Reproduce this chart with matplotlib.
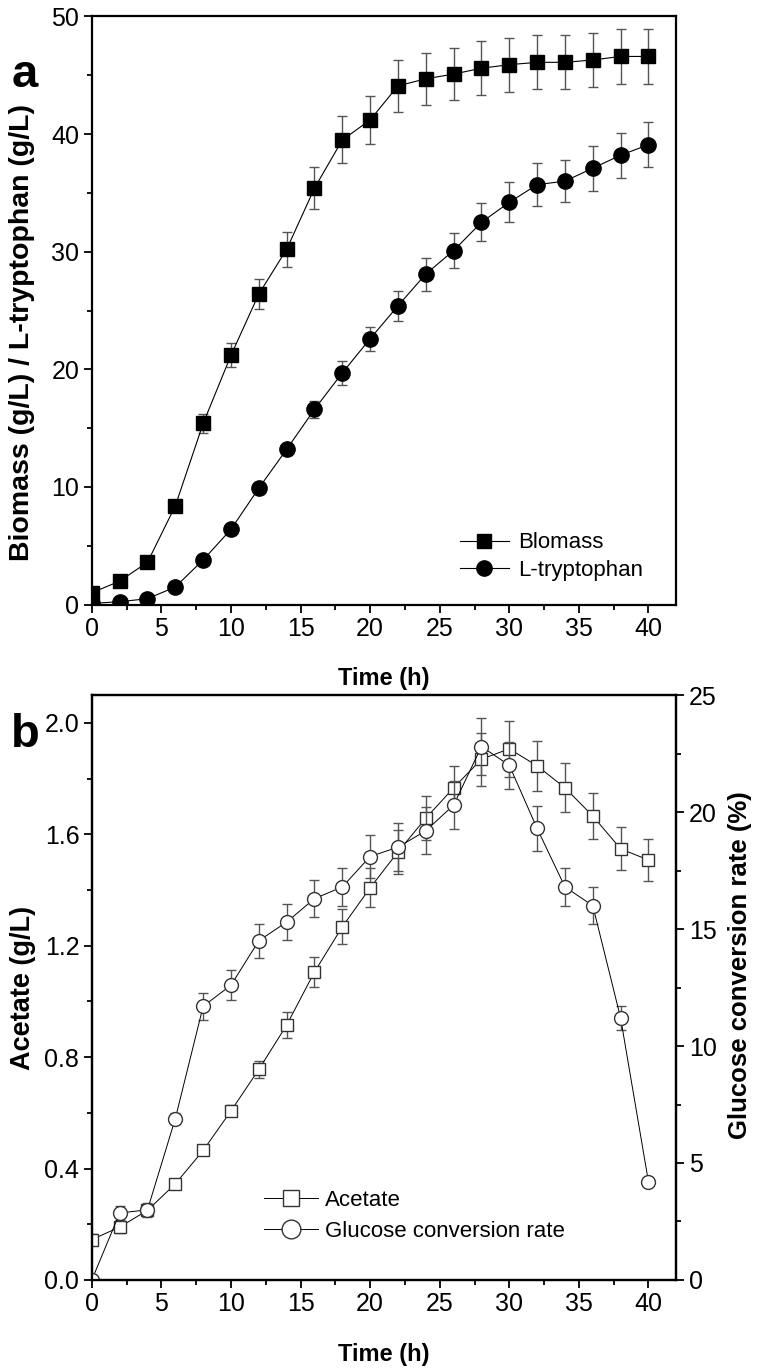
import numpy as np
import matplotlib.pyplot as plt
from matplotlib.ticker import MultipleLocator, FormatStrFormatter

plt.rcParams['font.family'] = ['Liberation Sans', 'DejaVu Sans']

# Time points (h)
time = [0, 2, 4, 6, 8, 10, 12, 14, 16, 18, 20, 22, 24, 26, 28, 30, 32, 34, 36, 38, 40]

# Panel a
biomass = [1.0, 2.0, 3.6, 8.4, 15.4, 21.2, 26.4, 30.2, 35.4, 39.5, 41.2,
           44.1, 44.7, 45.1, 45.6, 45.9, 46.1, 46.1, 46.3, 46.6, 46.6]
biomass_err = [0.1, 0.2, 0.2, 0.3, 0.8, 1.0, 1.3, 1.5, 1.8, 2.0, 2.05,
               2.2, 2.2, 2.2, 2.3, 2.3, 2.3, 2.3, 2.3, 2.3, 2.3]
trp = [0.1, 0.25, 0.5, 1.5, 3.8, 6.4, 9.9, 13.2, 16.6, 19.7, 22.6,
       25.4, 28.1, 30.1, 32.5, 34.2, 35.7, 36.0, 37.1, 38.2, 39.1]
trp_err = [0.05, 0.1, 0.1, 0.2, 0.3, 0.4, 0.5, 0.5, 0.7, 1.0, 1.0,
           1.25, 1.4, 1.5, 1.6, 1.7, 1.8, 1.8, 1.9, 1.9, 1.9]

# Panel b
acetate = [0.145, 0.19, 0.25, 0.345, 0.465, 0.607, 0.756, 0.915, 1.106, 1.268, 1.408,
           1.537, 1.658, 1.767, 1.87, 1.907, 1.846, 1.767, 1.666, 1.548, 1.508]
acetate_err = [0.02, 0.02, 0.02, 0.015, 0.01, 0.02, 0.03, 0.047, 0.055, 0.063, 0.07,
               0.078, 0.08, 0.08, 0.095, 0.1, 0.09, 0.088, 0.083, 0.077, 0.075]
glucose = [0.0, 2.86, 3.0, 6.9, 11.7, 12.6, 14.5, 15.3, 16.3, 16.8, 18.1,
           18.5, 19.2, 20.3, 22.8, 22.0, 19.3, 16.8, 16.0, 11.2, 4.2]
glucose_err = [0.0, 0.3, 0.3, 0.25, 0.57, 0.63, 0.73, 0.76, 0.8, 0.82, 0.93,
               1.04, 1.0, 1.03, 1.2, 1.0, 0.98, 0.83, 0.8, 0.53, 0.15]

fig = plt.figure(figsize=(7.59, 13.71), dpi=100)

err_kw = dict(ecolor='#555555', elinewidth=1.0, capsize=3.5, capthick=1.0)


def style_axis(ax):
    for s in ax.spines.values():
        s.set_linewidth(1.6)
    ax.tick_params(which='both', direction='out', width=1.3, labelsize=18, pad=3)
    ax.tick_params(which='major', length=6)
    ax.tick_params(which='minor', length=3.5)
    ax.xaxis.set_major_locator(MultipleLocator(5))
    ax.xaxis.set_minor_locator(MultipleLocator(2.5))


# ---- panel a
ax1 = fig.add_axes([0.121, 0.559, 0.770, 0.429])
ax1.errorbar(time, biomass, yerr=biomass_err, color='black', lw=0.8,
             marker='s', ms=9.5, label='Blomass', **err_kw)
ax1.errorbar(time, trp, yerr=trp_err, color='black', lw=0.8,
             marker='o', ms=11, label='L-tryptophan', **err_kw)
ax1.set_xlim(0, 42)
ax1.set_ylim(0, 50)
ax1.yaxis.set_major_locator(MultipleLocator(10))
ax1.yaxis.set_minor_locator(MultipleLocator(5))
style_axis(ax1)
ax1.set_xlabel('Time (h)', fontsize=17, fontweight='bold', labelpad=19)
ax1.set_ylabel('Biomass (g/L) / L-tryptophan (g/L)', fontsize=20.5, fontweight='bold')
ax1.yaxis.set_label_coords(-0.097, 0.463)
h, l = ax1.get_legend_handles_labels()
h = [x[0] for x in h]
ax1.legend(h, l, loc='lower left', bbox_to_anchor=(0.63, 0.04), frameon=False,
           fontsize=16, handlelength=2.2, handletextpad=0.4, labelspacing=0.3,
           borderpad=0, borderaxespad=0)
fig.text(0.015, 0.945, 'a', fontsize=34, fontweight='bold', va='center')

# ---- panel b
ax2 = fig.add_axes([0.121, 0.0664, 0.770, 0.4266])
ax3 = ax2.twinx()
l1 = ax2.errorbar(time, acetate, yerr=acetate_err, color='black', lw=0.7,
                  marker='s', ms=9, mfc='white', mec='#333333', mew=1.0,
                  label='Acetate', **err_kw)
l2 = ax3.errorbar(time, glucose, yerr=glucose_err, color='black', lw=0.7,
                  marker='o', ms=10, mfc='white', mec='#333333', mew=1.0,
                  label='Glucose conversion rate', **err_kw)
ax2.set_xlim(0, 42)
ax2.set_ylim(0, 2.1)
ax3.set_ylim(0, 25)
ax2.yaxis.set_major_locator(MultipleLocator(0.4))
ax2.yaxis.set_minor_locator(MultipleLocator(0.2))
ax2.yaxis.set_major_formatter(FormatStrFormatter('%.1f'))
ax3.yaxis.set_major_locator(MultipleLocator(5))
ax3.yaxis.set_minor_locator(MultipleLocator(2.5))
style_axis(ax2)
style_axis(ax3)
ax2.set_xlabel('Time (h)', fontsize=17, fontweight='bold', labelpad=19)
ax2.set_ylabel('Acetate (g/L)', fontsize=19.5, fontweight='bold', labelpad=6)
ax3.set_ylabel('Glucose conversion rate (%)', fontsize=18.5, fontweight='bold')
ax3.yaxis.set_label_coords(1.088, 0.538)
ax3.legend([l1[0], l2[0]], ['Acetate', 'Glucose conversion rate'], loc='lower left',
           bbox_to_anchor=(0.295, 0.065), frameon=False, fontsize=16, markerscale=1.35,
           handlelength=2.4, handletextpad=0.35, labelspacing=0.45,
           borderpad=0, borderaxespad=0)
fig.text(0.015, 0.464, 'b', fontsize=34, fontweight='bold', va='center')

fig.savefig('out.png', dpi=100)
